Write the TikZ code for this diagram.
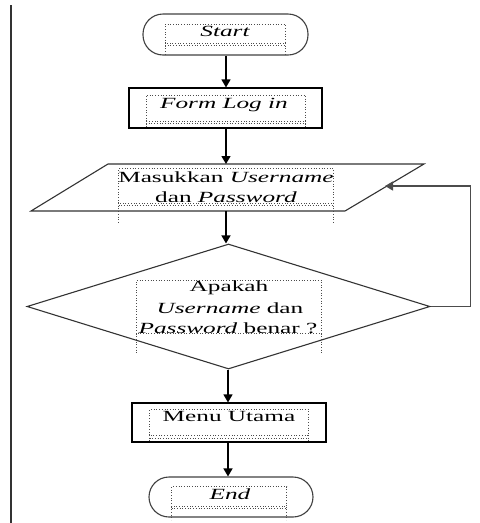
\documentclass[tikz,border=0pt]{standalone}
\usepackage{fontspec}
\setmainfont{Liberation Serif}[FakeStretch=1.63]
\usetikzlibrary{arrows.meta,shapes.geometric}
\tikzset{
  txt/.style={inner sep=0pt, anchor=base, font=\fontsize{15.5}{20}\selectfont, text=black},
  term/.style={draw=black!75, line width=1.1pt, rounded corners=20pt, inner sep=0pt},
  procbox/.style={draw=black, line width=1.15pt, inner sep=0pt},
  dotbox/.style={draw=black!70, line width=0.7pt, dotted},
  flow/.style={draw=black, line width=1.3pt, -{Triangle[width=9pt,length=8pt]}},
  back/.style={draw=black!70, line width=1.3pt, -{Triangle[width=9pt,length=8pt]}}
}
\begin{document}
\begin{tikzpicture}[x=1pt,y=-1pt]
\useasboundingbox (0,0) rectangle (480,523);
% left rule
\draw[line width=2pt, black!80] (11,5) -- (11,523);

% shapes
\node[term, minimum width=165pt, minimum height=41pt] (start) at (225.5,34.5) {};
\node[procbox, minimum width=193pt, minimum height=40pt] (form) at (225.5,108) {};
\draw[draw=black!80, line width=1.1pt] (108,164) -- (424,164) -- (345,211) -- (31,211) -- cycle;
\node[inner sep=0pt, minimum width=240pt, minimum height=47pt] (input) at (227,187.5) {};
\coordinate (inright) at (385,186);
\node[diamond, draw=black!80, line width=1.1pt, inner sep=0pt, minimum width=403pt, minimum height=125pt] (check) at (228.5,306.5) {};
\node[procbox, minimum width=194pt, minimum height=39pt] (menu) at (229,422.5) {};
\node[term, minimum width=164pt, minimum height=40pt] (end) at (231,497) {};

% dotted text frames
\draw[dotbox] (165,43) -- (165,24) -- (285,24) -- (285,43) -- cycle;
\draw[dotbox] (165,45) -- (285,45);
\draw[dotbox] (165,43) -- (165,56) (285,43) -- (285,56);

\draw[dotbox] (146,121) -- (146,95) -- (305.5,95) -- (305.5,121) -- cycle;
\draw[dotbox] (146,123) -- (305.5,123);
\draw[dotbox] (146,121) -- (146,128) (305.5,121) -- (305.5,128);

\draw[dotbox] (118.5,203) -- (118.5,168.5) -- (333.5,168.5) -- (333.5,203) -- cycle;
\draw[dotbox] (118.5,205) -- (333.5,205);
\draw[dotbox] (118.5,203) -- (118.5,223) (333.5,203) -- (333.5,223);

\draw[dotbox] (136.5,333.5) -- (136.5,280) -- (321.5,280) -- (321.5,333.5) -- cycle;
\draw[dotbox] (136.5,333.5) -- (136.5,355) (321.5,333.5) -- (321.5,355);

\draw[dotbox] (149.5,435) -- (149.5,409.5) -- (308.5,409.5) -- (308.5,435) -- cycle;
\draw[dotbox] (149.5,438) -- (308.5,438);
\draw[dotbox] (149.5,435) -- (149.5,442) (308.5,435) -- (308.5,442);

\draw[dotbox] (171.5,506.5) -- (171.5,486.5) -- (286.5,486.5) -- (286.5,506.5) -- cycle;
\draw[dotbox] (171.5,508.5) -- (286.5,508.5);
\draw[dotbox] (171.5,506.5) -- (171.5,520) (286.5,506.5) -- (286.5,520);

% texts
\node[txt] (tstart) at (225,36.7) {\itshape Start};
\node[txt] (tform) at (224,108) {\itshape Form Log in};
\node[txt] (tin1) at (226,182.3) {Masukkan \textit{Username}};
\node[txt] (tin2) at (226,202.3) {dan \textit{Password}};
\node[txt] (tq1) at (229,291) {Apakah};
\node[txt] (tq2) at (230,313) {\textit{Username} dan};
\node[txt] (tq3) at (228,333.5) {\textit{Password} benar ?};
\node[txt] (tmenu) at (229,421.7) {Menu Utama};
\node[txt] (tend) at (230,499.3) {\itshape End};

% connectors
\draw[flow] (start.south -| 226,0) -- (form.north -| 226,0);
\draw[flow] (form.south -| 226,0) -- (226,164);
\draw[flow] (226,211) -- (check.north -| 226,0);
\draw[flow] (check.south -| 228,0) -- (menu.north -| 228,0);
\draw[flow] (menu.south -| 228,0) -- (end.north -| 228,0);
\draw[back] (check.east) -- (470.7,306.5) -- (470.7,186) -- (inright);
\end{tikzpicture}
\end{document}
